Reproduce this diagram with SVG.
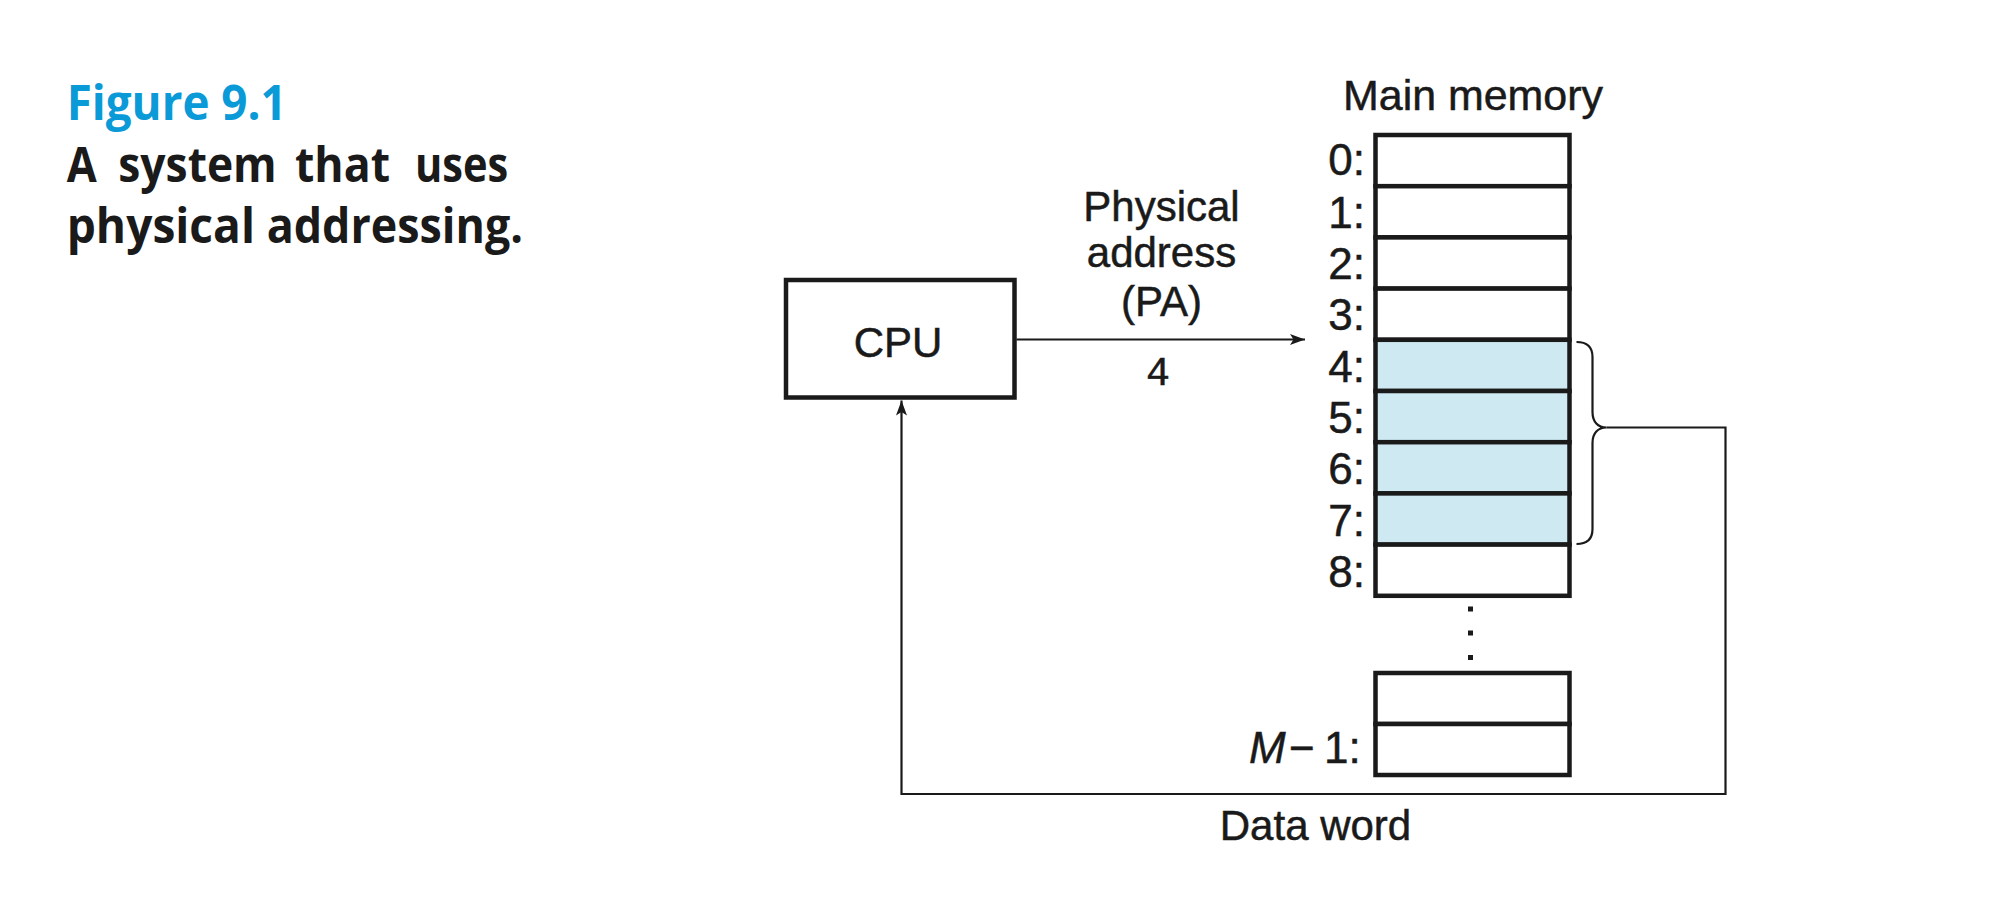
<svg xmlns="http://www.w3.org/2000/svg" width="1996" height="910" viewBox="0 0 1996 910">
<style>
  .cap { font-family: "Open Sans", "Noto Sans", "Liberation Sans", sans-serif; font-weight: 700; font-size: 48px; fill: #1a1a1a; }
  .title { fill: #0a9ad7; }
  .lbl { font-family: "Liberation Sans", Arial, sans-serif; font-size: 42px; fill: #1a1a1a; stroke: #1a1a1a; stroke-width: 0.5; }
  .num { font-size: 44px; }
  .mono { font-family: "Liberation Mono", "Courier New", monospace; font-size: 40px; fill: #1a1a1a; stroke: #1a1a1a; stroke-width: 0.5; }
  .box { fill: #ffffff; stroke: #1a1a1a; stroke-width: 4.5; }
  .cell { fill: #ffffff; stroke: #1a1a1a; stroke-width: 4.5; }
  .shade { fill: #cfe9f2; }
  .wire { fill: none; stroke: #1a1a1a; stroke-width: 2.2; }
  .dot { fill: #1a1a1a; }
</style>
<defs>
  <marker id="arrow" markerUnits="userSpaceOnUse" markerWidth="16" markerHeight="12" refX="15" refY="6" orient="auto">
    <path d="M0,0.5 L15,6 L0,11.5 L3.5,6 Z" fill="#1a1a1a"/>
  </marker>
</defs>

<g id="caption">
  <text class="cap title" x="66.7" y="120" textLength="220" lengthAdjust="spacingAndGlyphs">Figure 9.1</text>
  <text class="cap" x="66.7" y="181.7" textLength="30" lengthAdjust="spacingAndGlyphs">A</text>
  <text class="cap" x="118.3" y="181.7" textLength="158.4" lengthAdjust="spacingAndGlyphs">system</text>
  <text class="cap" x="295" y="181.7" textLength="95" lengthAdjust="spacingAndGlyphs">that</text>
  <text class="cap" x="415" y="181.7" textLength="93.3" lengthAdjust="spacingAndGlyphs">uses</text>
  <text class="cap" x="66.7" y="243.3" textLength="188.3" lengthAdjust="spacingAndGlyphs">physical</text>
  <text class="cap" x="266.7" y="243.3" textLength="256.3" lengthAdjust="spacingAndGlyphs">addressing.</text>
</g>

<g id="cpu">
  <rect class="box" x="786" y="280" width="228.5" height="117.5"/>
  <text class="lbl" x="898" y="357" text-anchor="middle">CPU</text>
</g>

<g id="memory">
  <text class="lbl" x="1343" y="110" textLength="260" lengthAdjust="spacingAndGlyphs">Main memory</text>
  <rect class="cell" x="1375.5" y="135" width="194" height="51.2"/>
  <rect class="cell" x="1375.5" y="186.2" width="194" height="51.2"/>
  <rect class="cell" x="1375.5" y="237.4" width="194" height="51.2"/>
  <rect class="cell" x="1375.5" y="288.6" width="194" height="51.2"/>
  <rect class="cell shade" x="1375.5" y="339.8" width="194" height="51.2"/>
  <rect class="cell shade" x="1375.5" y="391" width="194" height="51.2"/>
  <rect class="cell shade" x="1375.5" y="442.2" width="194" height="51.2"/>
  <rect class="cell shade" x="1375.5" y="493.4" width="194" height="51.2"/>
  <rect class="cell" x="1375.5" y="544.6" width="194" height="51.2"/>
  <text class="lbl num" x="1365" y="175" text-anchor="end">0:</text>
  <text class="lbl num" x="1365" y="227.5" text-anchor="end">1:</text>
  <text class="lbl num" x="1365" y="279" text-anchor="end">2:</text>
  <text class="lbl num" x="1365" y="330" text-anchor="end">3:</text>
  <text class="lbl num" x="1365" y="381.5" text-anchor="end">4:</text>
  <text class="lbl num" x="1365" y="432.5" text-anchor="end">5:</text>
  <text class="lbl num" x="1365" y="484" text-anchor="end">6:</text>
  <text class="lbl num" x="1365" y="535.5" text-anchor="end">7:</text>
  <text class="lbl num" x="1365" y="586.5" text-anchor="end">8:</text>
  <rect class="dot" x="1468" y="606.5" width="5" height="5"/>
  <rect class="dot" x="1468" y="630.5" width="5" height="5"/>
  <rect class="dot" x="1468" y="655" width="5" height="5"/>
  <rect class="cell" x="1375.5" y="673" width="194" height="51"/>
  <rect class="cell" x="1375.5" y="724" width="194" height="51"/>
  <text class="lbl num" x="1249" y="763"><tspan font-style="italic">M</tspan><tspan x="1289">−</tspan><tspan x="1324">1:</tspan></text>
</g>

<g id="connectors">
  <line class="wire" x1="1016.5" y1="339.5" x2="1305" y2="339.5" marker-end="url(#arrow)"/>
  <path class="wire" d="M1576.5,342 C1586,342 1592.5,346 1592.5,357 V412 C1592.5,422 1598,427.5 1606.5,427.5 C1598,427.5 1592.5,433 1592.5,443 V529 C1592.5,540 1586,544 1576.5,544"/>
  <path class="wire" d="M1606.5,427.5 H1725.5 V794 H901.5 V400.5" marker-end="url(#arrow)"/>
</g>

<g id="labels">
  <text class="lbl" x="1161.5" y="221" text-anchor="middle">Physical</text>
  <text class="lbl" x="1161.5" y="267" text-anchor="middle">address</text>
  <text class="lbl" x="1161.5" y="316" text-anchor="middle">(PA)</text>
  <text class="mono" x="1158" y="385" text-anchor="middle">4</text>
  <text class="lbl" x="1315.5" y="840" text-anchor="middle">Data word</text>
</g>
</svg>
